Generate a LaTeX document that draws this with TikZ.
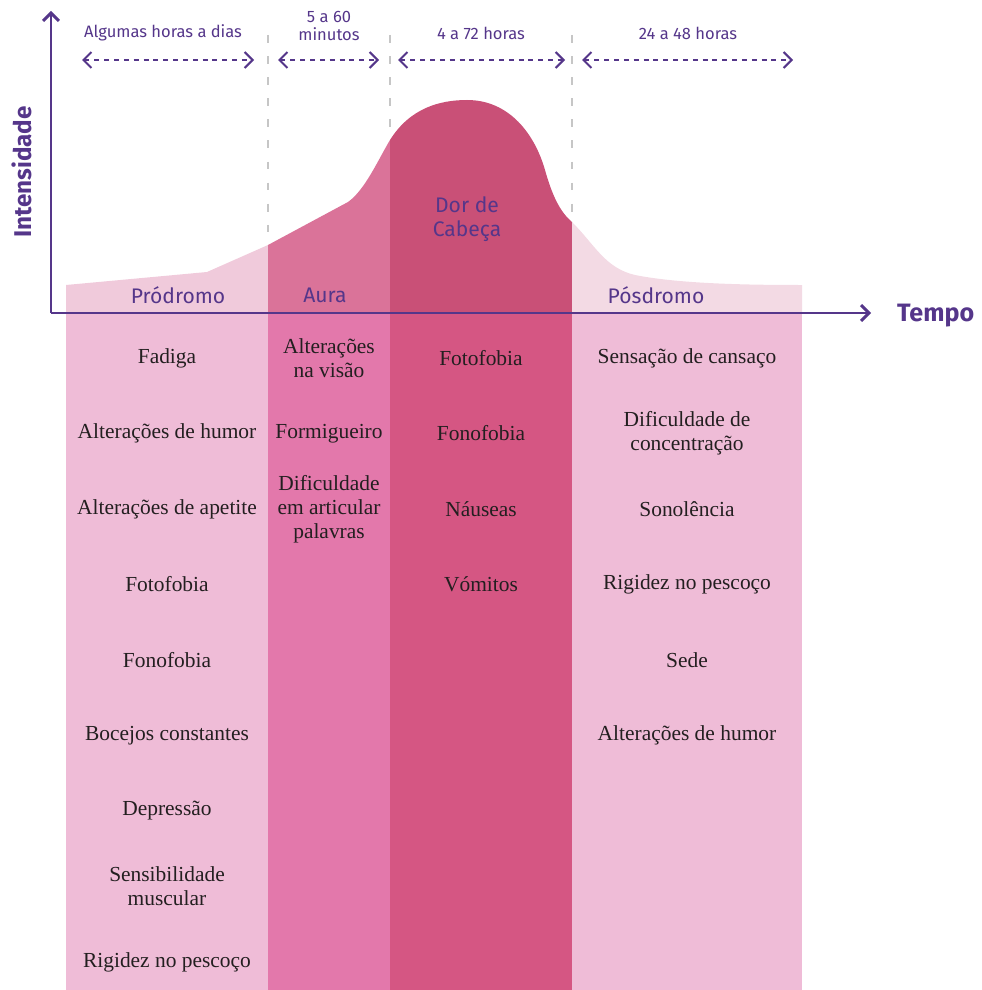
\documentclass[tikz,border=0pt]{standalone}
\usepackage{fontspec}
\setmainfont{Liberation Serif}
\setsansfont{Fira Sans}
\usepackage{xcolor}
\usetikzlibrary{arrows.meta,positioning}

\definecolor{roxo}{HTML}{55368A}
\definecolor{prodtopo}{HTML}{F0CADB}
\definecolor{prodbaixo}{HTML}{EFBCD7}
\definecolor{auratopo}{HTML}{DA7399}
\definecolor{aurabaixo}{HTML}{E378AB}
\definecolor{dortopo}{HTML}{C95077}
\definecolor{dorbaixo}{HTML}{D55683}
\definecolor{postopo}{HTML}{F3DAE4}
\definecolor{texto}{HTML}{231F20}

\tikzset{
  fase/.style={font=\sffamily\fontsize{12}{14}\selectfont, text=roxo, align=center},
  duracao/.style={font=\sffamily\fontsize{9.4}{10.6}\selectfont, text=roxo, align=center},
  sintoma/.style={font=\fontsize{12.2}{13.6}\selectfont, text=texto, align=center, inner sep=0pt},
  eixo/.style={roxo, line width=1.7pt},
  seta/.style={<->, roxo, line width=1.2pt, dash pattern=on 2.8pt off 2.8pt},
  divisa/.style={gray!45, line width=0.7pt, dash pattern=on 4.5pt off 7.5pt},
}

\begin{document}
\begin{tikzpicture}[x=0.02cm,y=-0.02cm,>={Straight Barb[length=4.5pt,width=9pt]}]
  \useasboundingbox (0,0) rectangle (981,990);

  % faixas abaixo do eixo
  \fill[prodbaixo] (66,313) rectangle (268,990);
  \fill[aurabaixo] (268,313) rectangle (390,990);
  \fill[dorbaixo] (390,313) rectangle (572,990);
  \fill[prodbaixo] (572,313) rectangle (802,990);

  % curva de intensidade
  \fill[prodtopo] (66,313) -- (66,285) -- (207,272) -- (268,245) -- (268,313) -- cycle;
  \fill[auratopo] (268,313) -- (268,245) -- (348,202)
    .. controls (365,190) and (378,160) .. (390,140) -- (390,313) -- cycle;
  \fill[dortopo] (390,313) -- (390,140) .. controls (410,108) and (440,100) .. (467,100)
    .. controls (510,100) and (535,135) .. (545,170)
    .. controls (552,195) and (560,212) .. (572,222) -- (572,313) -- cycle;
  \fill[postopo] (572,313) -- (572,222) .. controls (595,245) and (605,268) .. (635,275)
    .. controls (680,284) and (750,285) .. (802,285) -- (802,313) -- cycle;

  % divisas tracejadas
  \coordinate (d1a) at (268,35);  \coordinate (d1b) at (268,232);
  \coordinate (d2a) at (390,35);  \coordinate (d2b) at (390,128);
  \coordinate (d3a) at (572,35);  \coordinate (d3b) at (572,214);
  \draw[divisa] (d1a) -- (d1b);
  \draw[divisa] (d2a) -- (d2b);
  \draw[divisa] (d3a) -- (d3b);

  % duracoes
  \node[duracao] (tprod) at (163,33) {Algumas horas a dias};
  \node[duracao] (taura) at (329,26) {5 a 60\\minutos};
  \node[duracao] (tdor) at (481,33) {4 a 72 horas};
  \node[duracao] (tpos) at (688,33) {24 a 48 horas};
  \coordinate (p1) at (82,60);  \coordinate (p2) at (254,60);
  \coordinate (a1) at (278,60); \coordinate (a2) at (379,60);
  \coordinate (c1) at (398,60); \coordinate (c2) at (565,60);
  \coordinate (s1) at (582,60); \coordinate (s2) at (793,60);
  \draw[seta] (p1) -- (p2);
  \draw[seta] (a1) -- (a2);
  \draw[seta] (c1) -- (c2);
  \draw[seta] (s1) -- (s2);

  % eixos
  \coordinate (origem) at (51,313);
  \coordinate (ytopo) at (51,11);
  \coordinate (xfim) at (871,313);
  \draw[eixo,->] (origem) -- (ytopo);
  \draw[eixo,->] (origem) -- (xfim);
  \node[font=\sffamily\bfseries\fontsize{14.3}{16}\selectfont, text=roxo, anchor=west] (tempo) at (891,316) {Tempo};
  \node[font=\sffamily\bfseries\fontsize{13.8}{16}\selectfont, text=roxo, rotate=90] (intens) at (22,172) {Intensidade};

  % fases
  \node[fase] (prodromo) at (178,295) {Pródromo};
  \node[fase] (aura) at (325,295) {Aura};
  \node[fase] (dor) at (467,219) {Dor de\\Cabeça};
  \node[fase] (posdromo) at (656,295) {Pósdromo};

  % sintomas
  \foreach \s [count=\i] in {Fadiga, Alterações de humor, Alterações de apetite, Fotofobia,
      Fonofobia, Bocejos constantes, Depressão, Sensibilidade\\muscular, Rigidez no pescoço}
    \node[sintoma] (prod\i) at (167,{358+75.5*(\i-1)}) {\s};
  \foreach \s [count=\i] in {Alterações\\na visão, Formigueiro, Dificuldade\\em articular\\palavras}
    \node[sintoma] (aura\i) at (329,{358+75.5*(\i-1)}) {\s};
  \foreach \s [count=\i] in {Fotofobia, Fonofobia, Náuseas, Vómitos}
    \node[sintoma] (dor\i) at (481,{358+75.5*(\i-1)}) {\s};
  \foreach \s [count=\i] in {Sensação de cansaço, Dificuldade de\\concentração, Sonolência,
      Rigidez no pescoço, Sede, Alterações de humor}
    \node[sintoma] (pos\i) at (687,{358+75.5*(\i-1)}) {\s};
\end{tikzpicture}
\end{document}
